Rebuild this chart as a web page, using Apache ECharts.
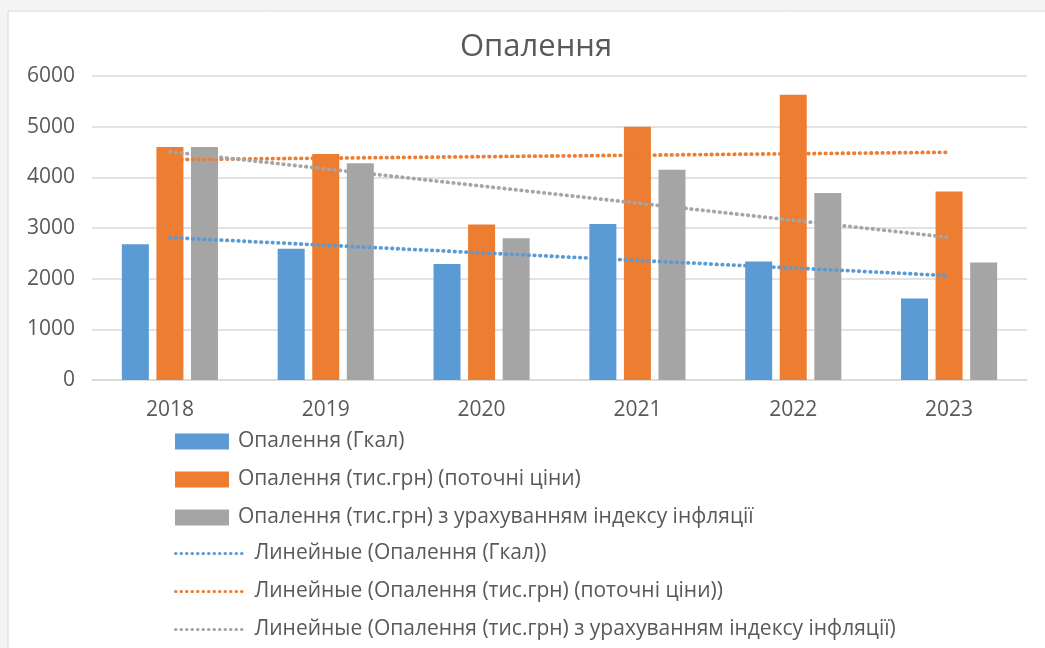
<!DOCTYPE html>
<html>
<head>
<meta charset="utf-8">
<script src="https://cdn.jsdelivr.net/npm/echarts@6/dist/echarts.min.js"></script>
<style>
  html, body { margin: 0; padding: 0; background: #f2f5f3; }
  #chart { width: 1045px; height: 648px; }
</style>
</head>
<body>
<div id="chart"></div>
<script>
// дані
var years = ['2018', '2019', '2020', '2021', '2022', '2023'];
var gcal = [2680, 2590, 2290, 3080, 2340, 1610];
var currentPrices = [4600, 4460, 3070, 5000, 5630, 3720];
var inflationAdj = [4600, 4280, 2800, 4150, 3690, 2320];
// кінці лінійних трендів (перший і останній рік)
var gcalTrend = [2810, 2060];
var currentTrend = [4350, 4495];
var inflationTrend = [4505, 2815];
var yTicks = [0, 1000, 2000, 3000, 4000, 5000, 6000];

var names = [
  'Опалення (Гкал)',
  'Опалення (тис.грн) (поточні ціни)',
  'Опалення (тис.грн) з урахуванням індексу інфляції'
];
var colors = ['#5B9BD5', '#ED7D31', '#A5A5A5'];
var font = 'Open Sans';
var textColor = '#595959';
var dots = [0.5, 5.2];

function trendData(ends) {
  return [[years[0], ends[0]], [years[years.length - 1], ends[1]]];
}

function barSeries(name, data, color) {
  return {
    name: name,
    type: 'bar',
    data: data,
    barWidth: 27,
    barGap: '28%',
    itemStyle: { color: color },
  };
}

function lineSeries(name, ends, color) {
  return {
    name: 'Линейные (' + name + ')',
    type: 'line',
    data: trendData(ends),
    symbol: 'none',
    silent: true,
    z: 5,
    lineStyle: { color: color, width: 3.8, type: dots, cap: 'round' },
    itemStyle: { color: color },
  };
}

var myChart = echarts.init(document.getElementById('chart'));

var option = {
  backgroundColor: '#f2f5f3',
  animation: false,
  graphic: [
    {
      type: 'rect',
      z: -10,
      shape: { x: 8, y: 11, width: 1045, height: 645 },
      style: { fill: '#ffffff', stroke: '#d9d9d9', lineWidth: 1 },
    },
  ],
  title: {
    text: 'Опалення',
    left: 455,
    top: 27,
    textStyle: { fontFamily: font, fontSize: 31, fontWeight: 'normal', color: textColor },
  },
  legend: [
    {
      orient: 'vertical',
      left: 175,
      top: 431,
      padding: 0,
      itemWidth: 54,
      itemHeight: 16,
      itemGap: 17,
      icon: 'rect',
      data: names,
      textStyle: { fontFamily: font, fontSize: 21, color: textColor, padding: [0, 0, 0, 4] },
    },
    {
      orient: 'vertical',
      left: 174,
      top: 543,
      padding: 0,
      itemWidth: 67,
      itemHeight: 16,
      itemGap: 17,
      itemStyle: { opacity: 0 },
      lineStyle: { width: 3, type: [0.5, 5], cap: 'round' },
      data: names.map(function (n) { return 'Линейные (' + n + ')'; }),
      textStyle: { fontFamily: font, fontSize: 21, color: textColor, padding: [0, 0, 0, 7] },
    },
  ],
  grid: { left: 92, right: 18, top: 76, bottom: 268, containLabel: false },
  xAxis: {
    type: 'category',
    data: years,
    axisLine: { lineStyle: { color: '#d9d9d9', width: 1.5 } },
    axisTick: { show: false },
    axisLabel: { fontFamily: font, fontSize: 21, color: textColor, margin: 20 },
  },
  yAxis: {
    type: 'value',
    min: yTicks[0],
    max: yTicks[yTicks.length - 1],
    interval: 1000,
    axisLine: { show: false },
    axisTick: { show: false },
    splitLine: { lineStyle: { color: '#d9d9d9', width: 1.5 } },
    axisLabel: {
      fontFamily: font,
      fontSize: 21,
      color: textColor,
      margin: 17,
      formatter: function (v) { return String(v); },
    },
  },
  series: [
    barSeries(names[0], gcal, colors[0]),
    barSeries(names[1], currentPrices, colors[1]),
    barSeries(names[2], inflationAdj, colors[2]),
    lineSeries(names[0], gcalTrend, colors[0]),
    lineSeries(names[1], currentTrend, colors[1]),
    lineSeries(names[2], inflationTrend, colors[2]),
  ],
};

myChart.setOption(option);
</script>
</body>
</html>
